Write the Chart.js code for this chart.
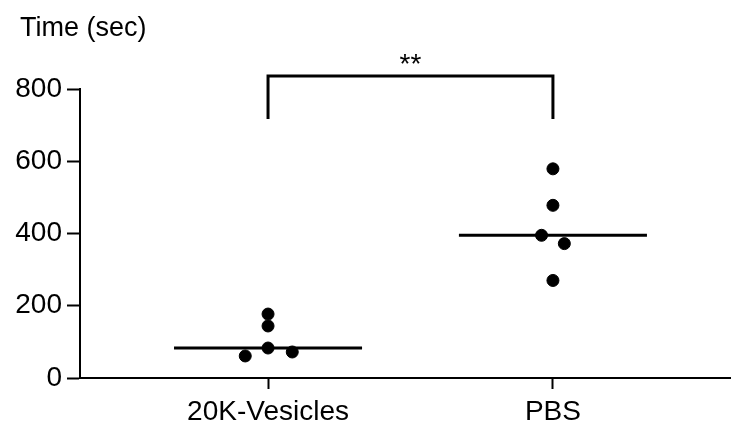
<!DOCTYPE html>
<html>
<head>
<meta charset="utf-8">
<script src="https://cdn.jsdelivr.net/npm/chart.js@4/dist/chart.umd.min.js"></script>
<style>
  html, body { margin: 0; padding: 0; background: #fff; }
  #wrap { width: 731px; height: 425px; position: relative; }
</style>
</head>
<body>
<div id="wrap"><canvas id="c" width="731" height="425"></canvas></div>
<script>
// ---- data ----
const categories = ['20K-Vesicles', 'PBS'];
const yTicks = [0, 200, 400, 600, 800];
const vesiclesTime = [177, 144, 83, 61, 72];
const vesiclesOffset = [0, 0, 0, -0.08, 0.085];   // horizontal scatter (category units)
const pbsTime = [579, 478, 395, 372, 270];
const pbsOffset = [0, 0, -0.04, 0.04, 0];
const medians = [83, 395];
const medianHalfWidth = 0.33;
const bracketTop = 836;
const bracketLeg = 717;
const significance = '**';
const yTitle = 'Time (sec)';

const FONT = "'Liberation Sans', Arial, Helvetica, sans-serif";

const pts = (vals, offs, idx) => vals.map((v, i) => ({ x: idx + offs[i], y: v }));

const datasets = [
  { type: 'scatter', data: pts(vesiclesTime, vesiclesOffset, 0), backgroundColor: '#000', borderColor: '#000', pointRadius: 6, pointHoverRadius: 6 },
  { type: 'scatter', data: pts(pbsTime, pbsOffset, 1), backgroundColor: '#000', borderColor: '#000', pointRadius: 6, pointHoverRadius: 6 },
];
medians.forEach((m, i) => {
  datasets.push({ type: 'line', data: [{ x: i - medianHalfWidth, y: m }, { x: i + medianHalfWidth, y: m }],
    borderColor: '#000', borderWidth: 3, pointRadius: 0, fill: false });
});
datasets.push({ type: 'line', clip: false,
  data: [{ x: 0, y: bracketLeg }, { x: 0, y: bracketTop }, { x: 1, y: bracketTop }, { x: 1, y: bracketLeg }],
  borderColor: '#000', borderWidth: 3, pointRadius: 0, fill: false, borderJoinStyle: 'miter', borderCapStyle: 'butt' });

const textPlugin = {
  id: 'texts',
  afterDraw(chart) {
    const ctx = chart.ctx;
    const xs = chart.scales.x, ys = chart.scales.y;
    ctx.save();
    ctx.fillStyle = '#000';
    ctx.font = '27px ' + FONT;
    ctx.textAlign = 'left';
    ctx.textBaseline = 'alphabetic';
    ctx.fillText(yTitle, 20, 36);
    ctx.font = '28px ' + FONT;
    ctx.textAlign = 'center';
    ctx.fillText(significance, (xs.getPixelForValue(0) + xs.getPixelForValue(1)) / 2, ys.getPixelForValue(bracketTop) - 3);
    ctx.restore();
  }
};

new Chart(document.getElementById('c'), {
  type: 'scatter',
  data: { datasets },
  options: {
    responsive: false,
    animation: false,
    events: [],
    layout: { autoPadding: false, padding: { top: 89, right: 0, left: 0, bottom: 0 } },
    plugins: { legend: { display: false }, tooltip: { enabled: false }, title: { display: false } },
    scales: {
      x: {
        type: 'linear',
        min: -0.66, max: 1.625,
        afterBuildTicks: (ax) => { ax.ticks = categories.map((c, i) => ({ value: i })); },
        afterFit: (ax) => { ax.height = 47; },
        ticks: { callback: (v) => categories[v], color: '#000', font: { family: FONT, size: 28 }, padding: 6, maxRotation: 0, autoSkip: false },
        grid: { drawOnChartArea: false, tickLength: 11, tickWidth: 2, tickColor: '#000' },
        border: { color: '#000', width: 2 }
      },
      y: {
        min: 0, max: 800,
        afterBuildTicks: (ax) => { ax.ticks = yTicks.map(v => ({ value: v })); },
        afterFit: (ax) => { ax.width = 80; },
        ticks: { color: '#000', font: { family: FONT, size: 28 }, padding: 5 },
        grid: { drawOnChartArea: false, tickLength: 13, tickWidth: 2, tickColor: '#000' },
        border: { color: '#000', width: 2 }
      }
    }
  },
  plugins: [textPlugin]
});
</script>
</body>
</html>
